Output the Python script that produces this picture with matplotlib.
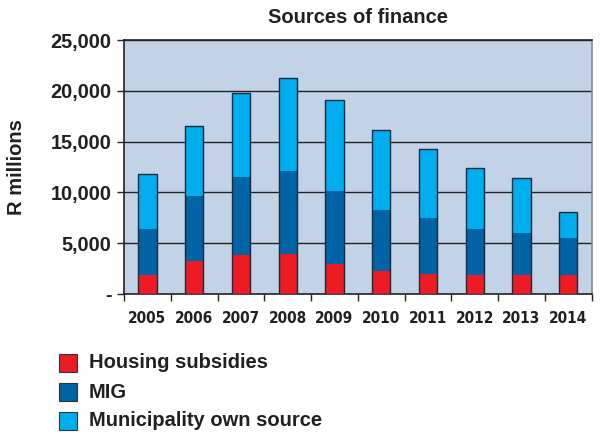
import matplotlib
matplotlib.use("Agg")
import matplotlib.pyplot as plt
from matplotlib.patches import Rectangle
import numpy as np

plt.rcParams['font.family'] = ['Liberation Sans', 'DejaVu Sans']
plt.rcParams['font.weight'] = 'bold'

# sources of finance, R millions
years = ['2005', '2006', '2007', '2008', '2009', '2010', '2011', '2012', '2013', '2014']
housing = [1850, 3200, 3850, 3950, 2950, 2250, 1950, 1900, 1900, 1900]
mig = [4550, 6450, 7650, 8150, 7200, 6000, 5550, 4500, 4100, 3650]
own_source = [5400, 6900, 8250, 9200, 8950, 7900, 6800, 6050, 5450, 2500]

txt = '#231f20'
c_red = '#ed1c24'
c_dark = '#0063a5'
c_light = '#00aeef'

fig = plt.figure(figsize=(6.05, 4.34), dpi=100)
ax = fig.add_axes([0.205, 0.3226, 0.773, 0.585])
ax.set_facecolor('#c2d3e8')

x = np.arange(len(years))
w = 0.39
h = np.array(housing)
m = np.array(mig)
o = np.array(own_source)
ax.bar(x, h, w, color=c_red, zorder=3)
ax.bar(x, m, w, bottom=h, color=c_dark, zorder=3)
ax.bar(x, o, w, bottom=h + m, color=c_light, zorder=3)
ax.bar(x, h + m + o, w, fill=False, edgecolor='#1a2a3a', linewidth=1.0, zorder=4)

ax.set_xlim(-0.5, len(years) - 0.5)
ax.set_ylim(0, 25000)
ax.set_yticks(np.arange(0, 25001, 5000))
ax.set_yticklabels(['-'] + ['{:,}'.format(v) for v in range(5000, 25001, 5000)],
                   fontsize=14.3, color=txt)
ax.yaxis.grid(True, color='#222222', linewidth=1.0, zorder=1)
ax.set_axisbelow(True)

ax.set_xticks(x)
ax.set_xticklabels(years, color=txt)
for lab in ax.get_xticklabels():
    lab.set_family(['DejaVu Sans'])
    lab.set_stretch('condensed')
    lab.set_fontsize(11)
    lab.set_fontweight('bold')
ax.set_xticks(np.arange(-0.5, len(years)), minor=True)
ax.tick_params(axis='x', which='major', length=0, pad=12)
ax.tick_params(axis='x', which='minor', length=5, width=1, color='#222222', direction='out')
ax.tick_params(axis='y', length=5, width=1, color='#222222', direction='out', pad=4)

for side in ['left', 'bottom', 'top']:
    ax.spines[side].set_color('#222222')
    ax.spines[side].set_linewidth(1.2)
ax.spines['right'].set_color('#8a8a8a')
ax.spines['right'].set_linewidth(1.2)

ax.set_title('Sources of finance', fontsize=14.5, fontweight='bold', color=txt, pad=12)
fig.text(0.027, 0.615, 'R millions', rotation=90, fontsize=14.5, fontweight='bold',
         color=txt, ha='center', va='center')

# legend drawn as squares with labels under the chart
labels = ['Housing subsidies', 'MIG', 'Municipality own source']
colors = [c_red, c_dark, c_light]
ys = [363, 392, 421]
for lab, col, yy in zip(labels, colors, ys):
    fy = 1 - yy / 434
    fig.patches.append(Rectangle((59 / 605, fy - 9 / 434), 18 / 605, 18 / 434,
                                 transform=fig.transFigure, facecolor=col,
                                 edgecolor='#333333', linewidth=0.8))
    fig.text(89 / 605, fy, lab, fontsize=14.5, fontweight='bold', color=txt,
             ha='left', va='center')

fig.savefig('out.png', dpi=100)
